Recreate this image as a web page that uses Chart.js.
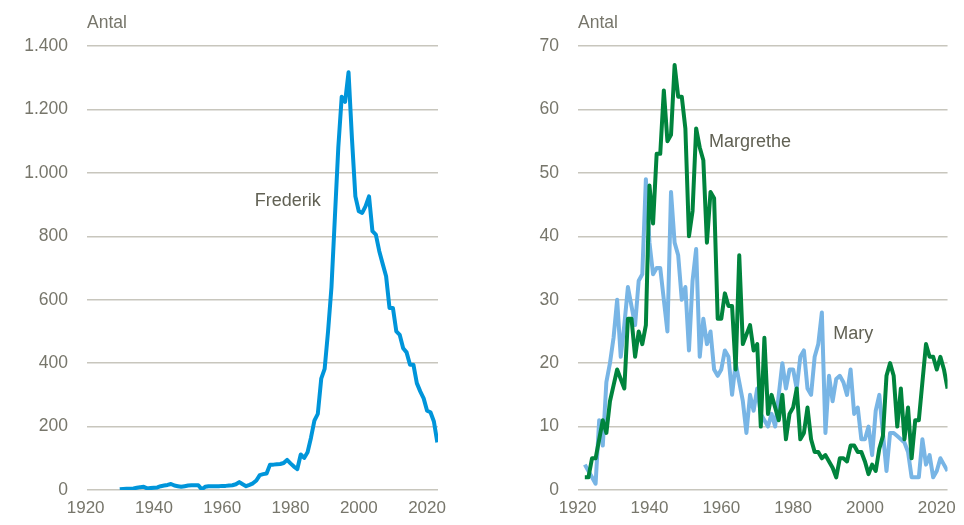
<!DOCTYPE html>
<html lang="da">
<head>
  <meta charset="UTF-8">
  <title>Antal navngivne: Frederik, Margrethe og Mary</title>
  <script src="https://cdn.jsdelivr.net/npm/chart.js"></script>
  <style>
    body {
      margin: 0;
      background: #ffffff;
      font-family: 'Liberation Sans', Arial, sans-serif;
    }
    .wrap {
      position: relative;
      width: 964px;
      height: 525px;
    }
    .panel {
      position: absolute;
      top: 0;
      width: 482px;
      height: 525px;
    }
    #leftPanel { left: 0; }
    #rightPanel { left: 482px; }
  </style>
</head>
<body>
  <div class="wrap">
    <div class="panel" id="leftPanel"><canvas id="leftChart"></canvas></div>
    <div class="panel" id="rightPanel"><canvas id="rightChart"></canvas></div>
  </div>

  <script>
    // x-akse
    const xTicks = [1920, 1940, 1960, 1980, 2000, 2020];

    // Frederik, 1930-2023
    const frederikStart = 1930;
    const frederik = [
      2, 3, 4, 4, 5, 7, 9, 10, 5, 6,
      7, 8, 12, 14, 16, 19, 14, 12, 10, 12,
      14, 15, 15, 15, 2, 10, 12, 12, 12, 12,
      13, 13, 14, 15, 18, 25, 18, 12, 16, 21,
      30, 47, 50, 52, 80, 80, 81, 82, 85, 95,
      84, 74, 66, 112, 101, 119, 165, 219, 240, 351,
      382, 500, 640, 860, 1080, 1240, 1224, 1317, 1108, 926,
      879, 874, 895, 926, 816, 805, 753, 713, 674, 574,
      574, 500, 489, 447, 434, 395, 395, 337, 311, 289,
      250, 245, 216, 150
    ];
    const leftYTicks = [0, 200, 400, 600, 800, 1000, 1200, 1400];

    // Margrethe og Mary, 1922-2023
    const rightStart = 1922;
    const margrethe = [
      2, 2, 5, 5, 8, 11, 9, 14,
      16.5, 19, 17.5, 16, 27, 27, 21, 25, 23, 26,
      48, 42, 53, 53, 63, 55, 56, 67, 62, 62,
      57, 40, 44, 57, 54, 52, 39, 47, 46, 27,
      27, 31, 29, 29, 19, 37, 23, 24.5, 26, 22,
      23, 10, 24, 12, 15, 13, 11, 15, 8, 12,
      13, 16, 8, 9, 13, 8, 6, 6, 5, 5.5,
      4.5, 3.5, 2, 5, 5, 4.5, 7, 7, 6, 6,
      4.5, 2.5, 4, 3, 6.5, 8.5, 18, 20, 18, 10,
      16, 8, 13, 5, 11, 11, 17, 23, 21, 21,
      19, 21, 19, 16
    ];
    const mary = [
      4, 3, 2, 1, 11, 7, 17, 20,
      24, 30, 21, 26, 32, 29, 26, 33, 34, 49,
      39, 34, 35, 35, 30, 25, 47, 39, 37, 30,
      32, 22, 33, 38, 21, 27, 23, 25, 19, 18,
      19, 22, 21, 15, 20, 17, 14, 9, 15, 12.5,
      16, 12, 11, 10, 12, 10, 15, 20, 16, 19,
      19, 16, 21, 22, 16, 15, 21, 23, 28, 9,
      18, 14, 17.5, 18, 17, 15, 19, 12, 13, 8,
      8, 10, 5.5, 12.5, 15, 9, 3, 9, 9, 8.5,
      8, 7.5, 6, 2, 2, 2, 8, 4, 5.5, 2,
      3, 5, 4, 3
    ];
    const rightYTicks = [0, 10, 20, 30, 40, 50, 60, 70];

    // navne-etiketter: [tekst, år, værdi]
    const leftLabels = [['Frederik', 1969.5, 910]];
    const rightLabels = [['Margrethe', 1956.6, 54.8], ['Mary', 1991.2, 24.6]];

    const tickColor = '#77766b';
    const gridColor = '#c8c6bd';
    const fontFamily = "'Liberation Sans', Arial, sans-serif";

    function toPoints(start, values) {
      return values.map((v, i) => ({ x: start + i, y: v }));
    }

    function thousands(v) {
      return String(v).replace(/\B(?=(\d{3})+(?!\d))/g, '.');
    }

    const textPlugin = {
      id: 'texts',
      afterDatasetsDraw(chart, args, opts) {
        const ctx = chart.ctx;
        const area = chart.chartArea;
        ctx.save();
        ctx.font = '17.5px ' + fontFamily;
        ctx.fillStyle = tickColor;
        ctx.textBaseline = 'middle';
        ctx.textAlign = 'left';
        ctx.fillText('Antal', area.left, 23);
        ctx.font = '18px ' + fontFamily;
        ctx.fillStyle = '#616154';
        opts.labels.forEach(([txt, x, y]) => {
          ctx.fillText(txt, chart.scales.x.getPixelForValue(x), chart.scales.y.getPixelForValue(y));
        });
        ctx.restore();
      }
    };

    function makeChart(id, datasets, cfg) {
      return new Chart(document.getElementById(id), {
        type: 'line',
        data: { datasets: datasets },
        options: {
          responsive: true,
          maintainAspectRatio: false,
          animation: false,
          layout: { padding: { top: 46, right: cfg.padRight, left: 0, bottom: 0 } },
          elements: {
            point: { radius: 0 },
            line: { tension: 0, borderWidth: 4, borderJoinStyle: 'round' }
          },
          scales: {
            x: {
              type: 'linear',
              min: cfg.xMin,
              max: cfg.xMax,
              grid: { display: false, drawTicks: false },
              border: { display: false },
              afterBuildTicks: s => { s.ticks = xTicks.map(v => ({ value: v })); },
              afterFit: s => { s.height = 35; },
              ticks: {
                color: tickColor,
                font: { family: fontFamily, size: 17 },
                padding: 8,
                maxRotation: 0,
                autoSkip: false,
                callback: v => String(v)
              }
            },
            y: {
              min: 0,
              max: cfg.yMax,
              grid: { color: gridColor, lineWidth: 1.5, drawTicks: false },
              border: { display: false },
              afterBuildTicks: s => { s.ticks = cfg.yTicks.map(v => ({ value: v })); },
              afterFit: s => { s.width = cfg.yWidth; },
              ticks: {
                color: tickColor,
                font: { family: fontFamily, size: 17.5 },
                padding: 19,
                callback: cfg.yFormat
              }
            }
          },
          plugins: {
            legend: { display: false },
            tooltip: { enabled: false },
            texts: { labels: cfg.labels }
          }
        },
        plugins: [textPlugin]
      });
    }

    makeChart('leftChart', [
      { label: 'Frederik', data: toPoints(frederikStart, frederik), borderColor: '#0095da' }
    ], {
      xMin: 1920.4, xMax: 2023.2, yMax: 1400, yTicks: leftYTicks,
      yWidth: 87, padRight: 44, yFormat: v => thousands(v), labels: leftLabels
    });

    makeChart('rightChart', [
      { label: 'Margrethe', data: toPoints(rightStart, margrethe), borderColor: '#00843d' },
      { label: 'Mary', data: toPoints(rightStart, mary), borderColor: '#78b5e5' }
    ], {
      xMin: 1920.1, xMax: 2023, yMax: 70, yTicks: rightYTicks,
      yWidth: 96, padRight: 11, yFormat: v => String(v), labels: rightLabels
    });
  </script>
</body>
</html>
